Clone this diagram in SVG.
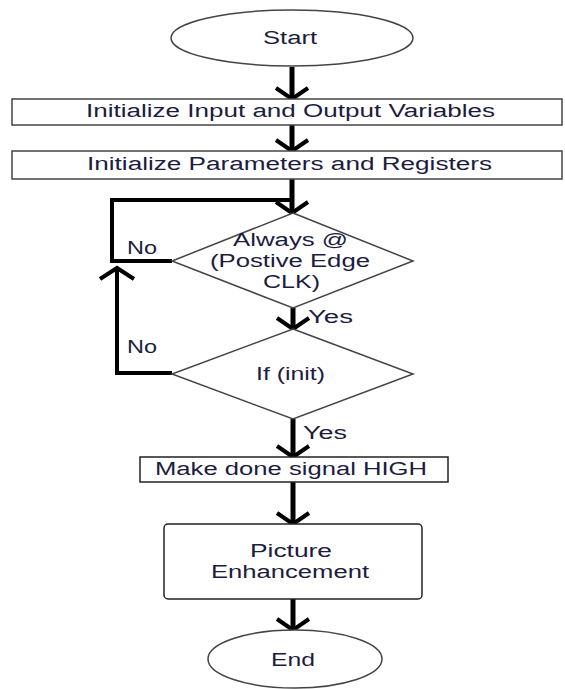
<svg xmlns="http://www.w3.org/2000/svg" width="565" height="689" viewBox="0 0 565 689">
<style>
.shape{fill:#fff;stroke:#444;stroke-width:1.5}
.t{font-family:"Liberation Sans",Arial,sans-serif;font-size:18px;fill:#1c1c40;text-anchor:middle}
.tl{font-family:"Liberation Sans",Arial,sans-serif;font-size:18px;fill:#1c1c40}
.ln{fill:none;stroke:#000;stroke-width:5;stroke-linejoin:miter}
.hd{fill:none;stroke:#000;stroke-width:4;stroke-linejoin:miter}
</style>
<rect width="565" height="689" fill="#fff"/>
<g id="connectors">
<line class="ln" x1="292" y1="67" x2="292" y2="97"/>
<polyline class="hd" points="276,88 292,99 308,88"/>
<line class="ln" x1="292" y1="125" x2="292" y2="149"/>
<polyline class="hd" points="276,140 292,151 308,140"/>
<line class="ln" x1="292" y1="179" x2="292" y2="211"/>
<polyline class="hd" points="276,202 292,213 308,202"/>
<polyline class="ln" points="292,200 112,200 112,261 172,261" style="stroke-width:4"/>
<line class="ln" x1="293" y1="308" x2="293" y2="327"/>
<polyline class="hd" points="277,318 293,329 309,318"/>
<polyline class="ln" points="172,373 117,373 117,270" style="stroke-width:4"/>
<polyline class="hd" points="100,279 117,268 134,279"/>
<line class="ln" x1="293" y1="419" x2="293" y2="455"/>
<polyline class="hd" points="277,446 293,457 309,446"/>
<line class="ln" x1="293" y1="482" x2="293" y2="522"/>
<polyline class="hd" points="277,513 293,524 309,513"/>
<line class="ln" x1="293" y1="599" x2="293" y2="628"/>
<polyline class="hd" points="277,619 293,630 309,619"/>
<text class="tl" x="127" y="254" textLength="30" lengthAdjust="spacingAndGlyphs">No</text>
<text class="tl" x="127" y="353" textLength="30" lengthAdjust="spacingAndGlyphs">No</text>
<text class="tl" x="308" y="323" textLength="45" lengthAdjust="spacingAndGlyphs">Yes</text>
<text class="tl" x="303" y="439" textLength="44" lengthAdjust="spacingAndGlyphs">Yes</text>
</g>
<g id="start">
<ellipse class="shape" cx="292" cy="38" rx="121" ry="28"/>
<text class="t" x="290" y="44" textLength="54" lengthAdjust="spacingAndGlyphs">Start</text>
</g>
<g id="init-io">
<rect class="shape" x="12" y="99" width="550" height="26"/>
<text class="t" x="290.5" y="117" textLength="409" lengthAdjust="spacingAndGlyphs">Initialize Input and Output Variables</text>
</g>
<g id="init-params">
<rect class="shape" x="12" y="151" width="550" height="28"/>
<text class="t" x="289.5" y="170" textLength="405" lengthAdjust="spacingAndGlyphs">Initialize Parameters and Registers</text>
</g>
<g id="always">
<polygon class="shape" points="293,213 413,261 293,308 172,261"/>
<text class="t" x="290.5" y="246" textLength="115" lengthAdjust="spacingAndGlyphs">Always @</text>
<text class="t" x="290" y="267" textLength="160" lengthAdjust="spacingAndGlyphs">(Postive Edge</text>
<text class="t" x="291.5" y="288" textLength="57" lengthAdjust="spacingAndGlyphs">CLK)</text>
</g>
<g id="if-init">
<polygon class="shape" points="293,329 413,374 293,419 172,374"/>
<text class="t" x="290.5" y="380" textLength="69" lengthAdjust="spacingAndGlyphs">If (init)</text>
</g>
<g id="done">
<rect class="shape" x="140" y="457" width="308" height="25" style="stroke:#222"/>
<text class="t" x="291" y="475" textLength="272" lengthAdjust="spacingAndGlyphs">Make done signal HIGH</text>
</g>
<g id="picture">
<rect class="shape" x="164" y="524" width="258" height="75" rx="4" style="stroke:#222"/>
<text class="t" x="291" y="557" textLength="82" lengthAdjust="spacingAndGlyphs">Picture</text>
<text class="t" x="290" y="578" textLength="158" lengthAdjust="spacingAndGlyphs">Enhancement</text>
</g>
<g id="end">
<ellipse class="shape" cx="295" cy="659" rx="87" ry="29"/>
<text class="t" x="293" y="666" textLength="44" lengthAdjust="spacingAndGlyphs">End</text>
</g>
</svg>
